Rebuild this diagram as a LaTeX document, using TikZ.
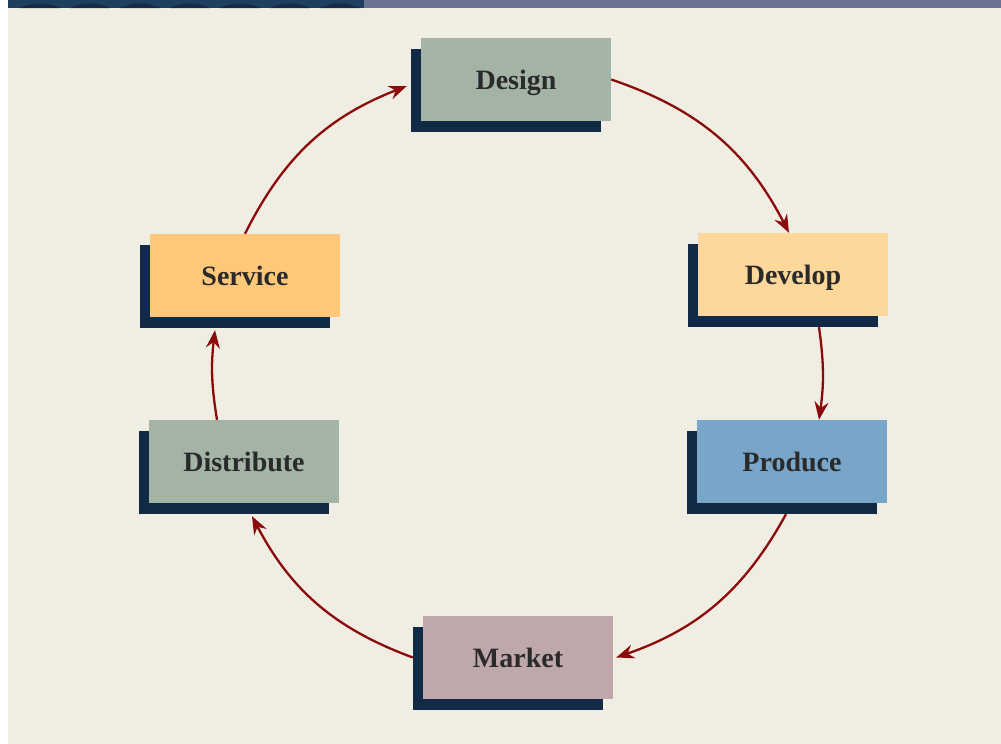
\documentclass[tikz,border=0pt]{standalone}
\usepackage{fontspec}
\setmainfont{Liberation Serif}
\usetikzlibrary{arrows.meta,shadows,calc}
\definecolor{bgc}{HTML}{F0EDE3}
\definecolor{shadowc}{HTML}{112A45}
\definecolor{sage}{HTML}{A3B3A6}
\definecolor{peach}{HTML}{FED79A}
\definecolor{amber}{HTML}{FFC878}
\definecolor{steel}{HTML}{79A6C8}
\definecolor{mauve}{HTML}{BFA8AB}
\definecolor{arrc}{HTML}{8B0A0A}
\definecolor{txtc}{HTML}{2A2A2A}
\definecolor{stripa}{HTML}{1F3F60}
\definecolor{stripd}{HTML}{122C46}
\definecolor{stripb}{HTML}{6B7591}
\tikzset{
  stagebox/.style={minimum width=190pt, minimum height=83pt, inner sep=0pt,
    text height=19pt, text depth=0pt,
    draw=none, text=txtc, font=\fontsize{28}{32}\selectfont\bfseries,
    general shadow={fill=shadowc, shadow xshift=-10pt, shadow yshift=-10.5pt}},
  flow/.style={draw=arrc, line width=2.3pt, -{Stealth[length=18pt,width=14pt,inset=6pt]}}
}
\begin{document}
\begin{tikzpicture}[x=1pt,y=-1pt]
\useasboundingbox (0,0) rectangle (1001,744);
\fill[white] (0,0) rectangle (1001,744);
\fill[bgc] (8,8) rectangle (1001,744);
\fill[stripa] (8,0) rectangle (364,8);
\foreach \i in {0,...,6} {
  \fill[stripd] ({20+\i*50},8) .. controls ({32+\i*50},2) and ({48+\i*50},2) .. ({60+\i*50},8) -- cycle;
}
\fill[stripb] (364,0) rectangle (1001,8);
\node[stagebox, fill=sage]  (design)     at (516,79.5)  {Design};
\node[stagebox, fill=peach] (develop)    at (793,274.5) {Develop};
\node[stagebox, fill=steel] (produce)    at (792,461.5) {Produce};
\node[stagebox, fill=mauve] (market)     at (518,657.5) {Market};
\node[stagebox, fill=sage]  (distribute) at (244,461.5) {Distribute};
\node[stagebox, fill=amber] (service)    at (245,275.5) {Service};
\draw[flow] (design.east) to[bend left=22] ([xshift=-4pt]develop.north);
\draw[flow] ([xshift=26pt,yshift=-11pt]develop.south) to[bend left=8] ([xshift=27pt]produce.north);
\draw[flow] ([xshift=-6pt,yshift=-11pt]produce.south) to[bend left=21] ([xshift=3pt]market.east);
\draw[flow] ([xshift=-10pt]market.west) to[bend left=21] ([xshift=8pt,yshift=-13pt]distribute.south);
\draw[flow] ([xshift=-27pt]distribute.north) to[bend left=8] ([xshift=-30pt,yshift=-13pt]service.south);
\draw[flow] (service.north) to[bend left=21] ([xshift=-14pt,yshift=-6.5pt]design.west);
\end{tikzpicture}
\end{document}
